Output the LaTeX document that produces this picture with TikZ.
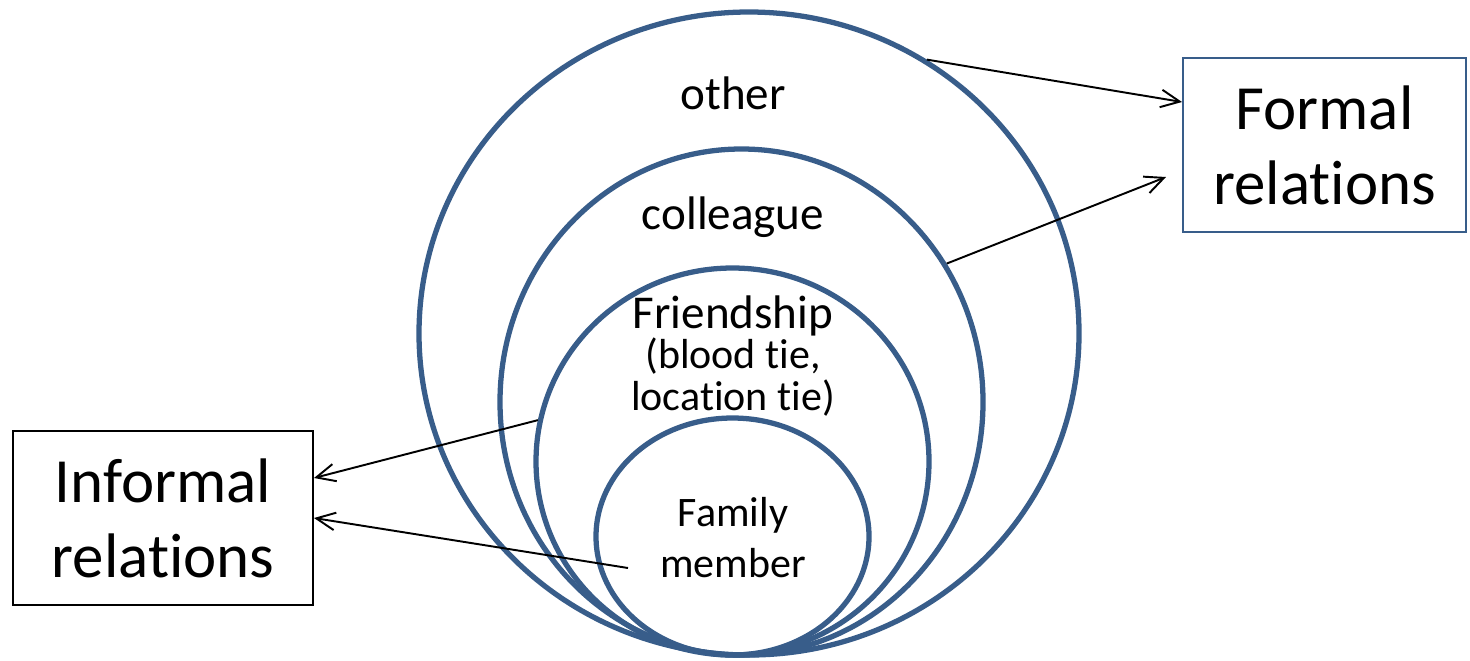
\documentclass[tikz,border=0pt]{standalone}
\usepackage{fontspec}
\setmainfont{Carlito}[Ligatures=CommonOff]
\usetikzlibrary{shapes.geometric,arrows.meta,calc}
\definecolor{ringblue}{RGB}{56,93,138}

\begin{document}
\begin{tikzpicture}
    \tikzstyle{ring} = [draw=ringblue, line width=1.5pt, ellipse, inner sep=0pt]
    \tikzstyle{biglabel} = [anchor=base, font=\fontsize{13.4}{16}\selectfont]
    \tikzstyle{smalllabel} = [align=center]
    \tikzstyle{relbox} = [draw, line width=0.55pt, minimum width=3cm, minimum height=1.74cm,
        align=center, font=\fontsize{17.9}{21.3}\selectfont]
    \tikzstyle{tie} = [-{Straight Barb[length=5.4pt,width=5pt]}, line width=0.55pt]
    \useasboundingbox (0,0) rectangle (14.7,6.6);

    % nested rings, all touching at the bottom
    \node[ring, minimum width=6.6cm, minimum height=6.43cm] (other) at (7.49,3.265) {};
    \node[ring, minimum width=4.83cm, minimum height=5.06cm] (colleague) at (7.415,2.58) {};
    \node[ring, minimum width=3.93cm, minimum height=3.87cm] (friendship) at (7.325,1.985) {};
    \node[ring, minimum width=2.73cm, minimum height=2.37cm] (family) at (7.325,1.235) {};

    \node[biglabel] (otherlbl) at (7.33,5.51) {other};
    \node[biglabel] (colleaguelbl) at (7.33,4.31) {colleague};
    \node[biglabel] (friendlbl) at (7.33,3.32) {Friendship};
    \node[smalllabel, font=\fontsize{11.95}{12.2}\selectfont] (tielbl) at (7.33,2.83)
        {(blood tie,\\location tie)};
    \node[smalllabel, font=\fontsize{11.95}{14.5}\selectfont] (familylbl) at (7.33,1.22)
        {Family\\member};

    % relation boxes
    \node[relbox, draw=ringblue, minimum width=2.83cm] (formal) at (13.245,5.15) {Formal\\relations};
    \node[relbox, draw=black] (informal) at (1.63,1.42) {Informal\\relations};

    \coordinate (famtail) at (6.28,0.92);
    \draw[tie] (other.57) -- ($(formal.west)+(0,0.43)$);
    \draw[tie] (colleague.34) -- ($(formal.west)+(-0.16,-0.32)$);
    \draw[tie] (friendship.168) -- ($(informal.east)+(0,0.40)$);
    \draw[tie] (famtail) -- (informal.east);
\end{tikzpicture}
\end{document}
